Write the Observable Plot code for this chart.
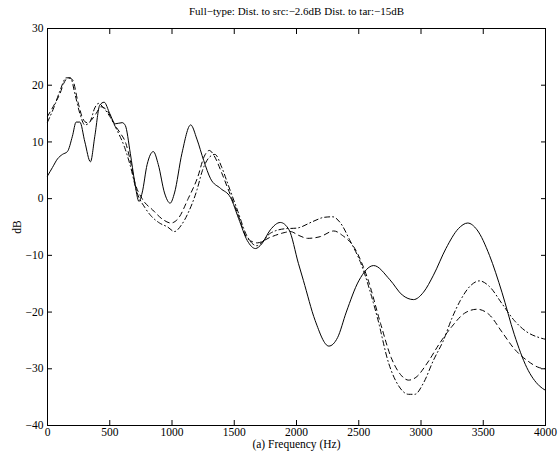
<!DOCTYPE html>
<html>
<head>
<meta charset="utf-8">
<script src="https://cdn.jsdelivr.net/npm/d3@7"></script>
<script src="https://cdn.jsdelivr.net/npm/@observablehq/plot@0.6"></script>
<style>
  html, body { margin: 0; padding: 0; background: #fff; }
  svg { display: block; }
</style>
</head>
<body>
<div id="chart"></div>
<script>
const titleText = "Full\u2212type: Dist. to src:\u22122.6dB Dist. to tar:\u221215dB";
const xLabel = "(a) Frequency (Hz)";
const yLabel = "dB";
const xTicks = [0, 500, 1000, 1500, 2000, 2500, 3000, 3500, 4000];
const yTicks = [-40, -30, -20, -10, 0, 10, 20, 30];

// Solid curve
const solidF = [0,40,80,120,160,200,230,260,300,345,380,420,455,500,545,600,625,665,700,735,760,800,850,890,940,985,1020,1080,1150,1200,1255,1310,1390,1470,1535,1605,1670,1720,1790,1870,1940,2015,2055,2150,2260,2330,2400,2500,2620,2750,2850,2940,3020,3100,3200,3300,3375,3450,3550,3650,3750,3850,3950,4000];
const solidDB = [4,5.5,7,7.8,8.3,11,13.5,13.5,10,6.5,11,16.5,17,15,13.2,13.4,12.9,8,3,-0.5,1,6,8.3,6,1,-0.8,1,8,13,10.5,6.7,3.5,1.8,0.2,-3.5,-7.4,-8.8,-8,-5.5,-4.2,-5.5,-11.4,-14.4,-21.5,-26,-24.5,-20,-14.5,-11.8,-14.3,-17,-17.8,-16.5,-13.5,-8.8,-5.3,-4.3,-5.5,-10,-16.5,-24,-29.8,-33,-33.8];

// Dashed curve
const dashF = [0,60,100,130,165,200,245,280,315,350,390,430,480,540,580,630,665,700,760,845,935,990,1050,1130,1205,1260,1300,1340,1400,1445,1525,1605,1685,1790,1900,1950,2020,2090,2190,2300,2370,2460,2570,2675,2760,2835,2900,2960,3050,3150,3250,3350,3450,3550,3650,3750,3850,3950,4000];
const dashDB = [14.5,16.8,18.5,20.3,21.3,21,17,14.3,13.4,13.8,15,16.2,15.5,13,11.7,9.7,6.7,3,0,-2,-3.8,-4.3,-3.5,0,3.7,7.5,8.5,7.5,4.5,2,-2.5,-7,-7.8,-6.8,-6,-5.8,-6.5,-7,-6.7,-5.7,-6.5,-8.5,-14,-22,-28,-31,-32,-31.5,-29,-25.5,-22.5,-20.2,-19.5,-20.5,-23.5,-26.5,-28.5,-29.8,-30];

// Dash-dot curve
const dotF = [0,50,100,150,185,220,260,300,340,380,410,450,500,560,620,665,720,780,830,900,965,1020,1080,1130,1200,1245,1300,1345,1400,1450,1525,1600,1680,1790,1910,2000,2135,2220,2290,2350,2430,2515,2650,2740,2820,2900,2950,3020,3100,3180,3250,3315,3400,3470,3550,3650,3750,3850,3950,4000];
const dotDB = [13.5,16,19,21.3,21.3,18.5,15,13,13.5,16,16.8,16,14.5,12,9,5.8,1,-1.5,-3,-4.3,-5,-5.8,-4.5,-2.5,1.5,5,7.3,7.8,5.5,2.5,-2,-6.5,-8.3,-6.1,-5.3,-5.2,-4,-3.3,-3.2,-4.2,-7.4,-11.3,-21,-29,-33,-34.5,-34.5,-32.5,-28.5,-25,-21,-18,-15.3,-14.5,-15.5,-18.5,-21.5,-23.5,-24.5,-24.8];

const toRows = (F, V) => F.map((f, i) => ({f, v: V[i]}));
const solid = toRows(solidF, solidDB);
const dashed = toRows(dashF, dashDB);
const dashdot = toRows(dotF, dotDB);

const font = "Liberation Serif, Times New Roman, serif";
const fmt = d => d < 0 ? "\u2212" + (-d) : String(d);

const plot = Plot.plot({
  width: 559,
  height: 453,
  marginLeft: 47,
  marginRight: 14,
  marginTop: 28,
  marginBottom: 28,
  style: {fontFamily: font, fontSize: "11px", color: "#000", background: "#fff"},
  x: {domain: [0, 4000]},
  y: {domain: [-40, 30]},
  marks: [
    Plot.line(solid, {x: "f", y: "v", stroke: "#000", strokeWidth: 1, curve: "monotone-x"}),
    Plot.line(dashed, {x: "f", y: "v", stroke: "#000", strokeWidth: 1, strokeDasharray: "5,4", curve: "monotone-x"}),
    Plot.line(dashdot, {x: "f", y: "v", stroke: "#000", strokeWidth: 1, strokeDasharray: "5,3,1,3", curve: "monotone-x"}),
    // tick labels and axis titles
    Plot.axisX(xTicks, {anchor: "bottom", tickSize: 0, tickPadding: 2, tickFormat: fmt, label: null, fontSize: 11.5}),
    Plot.axisY(yTicks, {anchor: "left", tickSize: 0, tickPadding: 4, tickFormat: fmt, label: yLabel, labelAnchor: "center", labelArrow: "none", labelOffset: 35, fontSize: 11.5}),
    Plot.text([xLabel], {frameAnchor: "bottom", dy: 19, lineAnchor: "middle", text: d => d, fontSize: 11.5, fill: "#000"}),
    // inward ticks on all sides
    Plot.axisX(xTicks, {anchor: "bottom", tickSize: -5, tickFormat: () => "", label: null}),
    Plot.axisX(xTicks, {anchor: "top", tickSize: -5, tickFormat: () => "", label: null}),
    Plot.axisY(yTicks, {anchor: "left", tickSize: -5, tickFormat: () => "", label: null}),
    Plot.axisY(yTicks, {anchor: "right", tickSize: -5, tickFormat: () => "", label: null}),
    Plot.frame({stroke: "#000", strokeWidth: 1}),
    Plot.text([titleText], {frameAnchor: "top", dy: -17, lineAnchor: "middle", text: d => d, fontSize: 11, fill: "#000"})
  ]
});
document.getElementById("chart").appendChild(plot);
</script>
</body>
</html>
